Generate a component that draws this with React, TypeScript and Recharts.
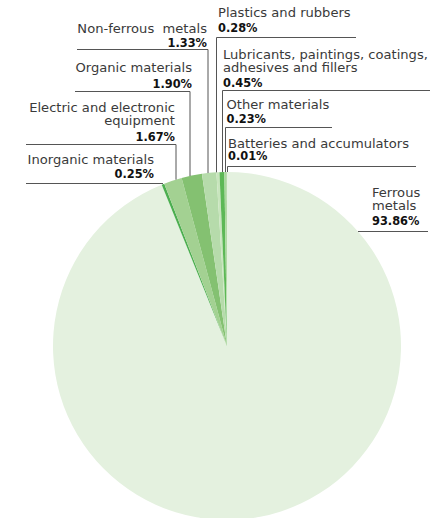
import React from "react";
import { PieChart, Pie, Cell } from "recharts";

const categories = [
  "Ferrous metals",
  "Inorganic materials",
  "Electric and electronic equipment",
  "Organic materials",
  "Non-ferrous metals",
  "Plastics and rubbers",
  "Lubricants, paintings, coatings, adhesives and fillers",
  "Other materials",
  "Batteries and accumulators",
];
const values = [93.86, 0.25, 1.67, 1.9, 1.33, 0.28, 0.45, 0.23, 0.01];
const labelLines = [
  ["Ferrous", "metals"],
  ["Inorganic materials"],
  ["Electric and electronic", "equipment"],
  ["Organic materials"],
  ["Non-ferrous  metals"],
  ["Plastics and rubbers"],
  ["Lubricants, paintings, coatings,", "adhesives and fillers"],
  ["Other materials"],
  ["Batteries and accumulators"],
];
const colors = [
  "#e4f1df",
  "#4caf50",
  "#a3d192",
  "#84c171",
  "#b6dbab",
  "#c8e5bd",
  "#5db856",
  "#a9d69c",
  "#cde6c4",
];

// label layout (annotation placement)
type Lay = {
  anchor: "start" | "end";
  tx: number;
  ys: number[];
  py: number;
  uy: number;
  ux: number; // far end of underline
  lx?: number; // vertical leader x (if any)
  kind: "v" | "hl" | "hr";
};
const layout: Lay[] = [
  { anchor: "start", tx: 372, ys: [196.5, 210], py: 225, uy: 231.5, ux: 428, kind: "hr" },
  { anchor: "end", tx: 154, ys: [164.3], py: 178, uy: 183.5, ux: 26, kind: "hl" },
  { anchor: "end", tx: 175, ys: [111.7, 125.3], py: 140.7, uy: 144.5, ux: 26, lx: 176, kind: "v" },
  { anchor: "end", tx: 192, ys: [72.3], py: 87.5, uy: 91.5, ux: 75, lx: 190, kind: "v" },
  { anchor: "end", tx: 207, ys: [33.3], py: 46.8, uy: 49.5, ux: 77, lx: 208, kind: "v" },
  { anchor: "start", tx: 218, ys: [16.8], py: 31.7, uy: 37.5, ux: 356, lx: 216.5, kind: "v" },
  { anchor: "start", tx: 223, ys: [58.6, 72.2], py: 86.7, uy: 90.5, ux: 430, lx: 222.5, kind: "v" },
  { anchor: "start", tx: 226.5, ys: [109.2], py: 122.7, uy: 127.5, ux: 332, lx: 225.5, kind: "v" },
  { anchor: "start", tx: 228, ys: [147.5], py: 160.2, uy: 166.5, ux: 416, lx: 227.5, kind: "v" },
];

const data = categories.map((name, i) => ({ name, value: values[i] }));

const FONT = "'DejaVu Sans', sans-serif";
const LINE = "#555";

const renderLabel = (props: any) => {
  const { cx, cy, midAngle, outerRadius, index } = props;
  const L = layout[index];
  if (!L) return null;
  const RAD = Math.PI / 180;
  const elems: React.ReactNode[] = [];
  if (L.kind === "v" && L.lx !== undefined) {
    const dx = L.lx - cx;
    const yArc = cy - Math.sqrt(Math.max(0, outerRadius * outerRadius - dx * dx));
    elems.push(
      <line key="u" x1={L.ux} y1={L.uy} x2={L.lx} y2={L.uy} stroke={LINE} strokeWidth={1} />
    );
    elems.push(
      <line key="v" x1={L.lx} y1={L.uy} x2={L.lx} y2={yArc} stroke={LINE} strokeWidth={1} />
    );
  } else if (L.kind === "hl") {
    const px = cx + outerRadius * Math.cos(-midAngle * RAD);
    elems.push(
      <line key="u" x1={L.ux} y1={L.uy} x2={px} y2={L.uy} stroke={LINE} strokeWidth={1} />
    );
  } else {
    const dy = L.uy - cy;
    const px = cx + Math.sqrt(Math.max(0, outerRadius * outerRadius - dy * dy));
    elems.push(
      <line key="u" x1={px} y1={L.uy} x2={L.ux} y2={L.uy} stroke={LINE} strokeWidth={1} />
    );
  }
  labelLines[index].forEach((t, j) => {
    elems.push(
      <text
        key={"t" + j}
        x={L.tx}
        y={L.ys[j]}
        textAnchor={L.anchor}
        fontFamily={FONT}
        fontSize={13.1}
        fill="#3a3a3a"
        style={{ whiteSpace: "pre" }}
      >
        {t}
      </text>
    );
  });
  elems.push(
    <text
      key="p"
      x={L.tx}
      y={L.py}
      textAnchor={L.anchor}
      fontFamily={FONT}
      fontSize={11.4}
      fontWeight={700}
      fill="#111"
    >
      {values[index].toFixed(2) + "%"}
    </text>
  );
  return <g key={"lab" + index}>{elems}</g>;
};

export default function App() {
  return (
    <div style={{ position: "absolute", left: 0, top: 0, width: 443, height: 518, background: "#fff" }}>
      <PieChart width={443} height={518} margin={{ top: 0, right: 0, bottom: 0, left: 0 }}>
        <Pie
          data={data}
          dataKey="value"
          nameKey="name"
          cx={227}
          cy={346}
          outerRadius={174}
          startAngle={90}
          endAngle={-270}
          stroke="none"
          isAnimationActive={false}
          label={renderLabel}
          labelLine={false}
        >
          {data.map((d, i) => (
            <Cell key={d.name} fill={colors[i]} />
          ))}
        </Pie>
      </PieChart>
    </div>
  );
}
